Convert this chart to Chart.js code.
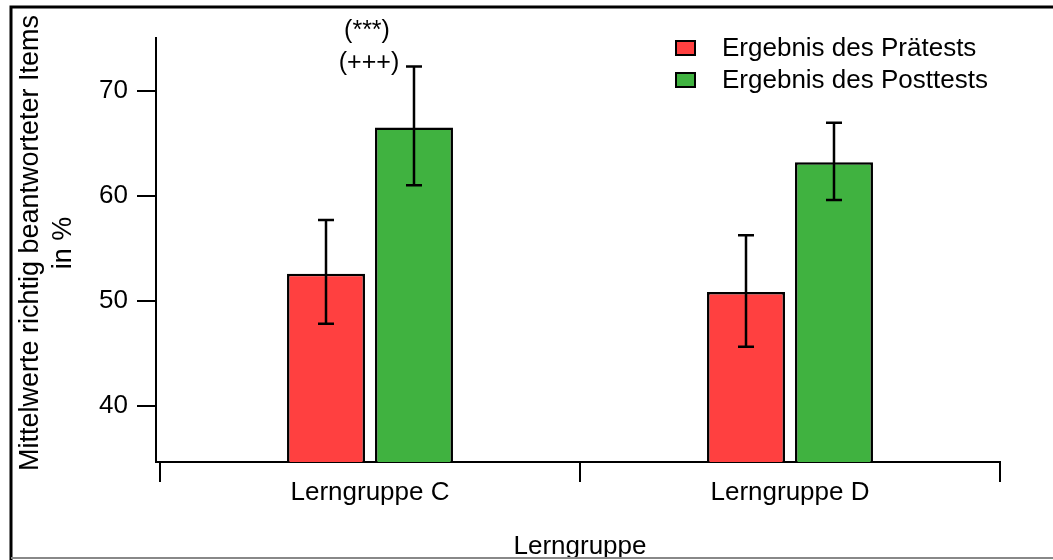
<!DOCTYPE html>
<html>
<head>
<meta charset="utf-8">
<script src="https://cdn.jsdelivr.net/npm/chart.js@4"></script>
<style>
  html, body { margin: 0; padding: 0; background: #fff; }
  #wrap { width: 1053px; height: 560px; position: relative; }
</style>
</head>
<body>
<div id="wrap"><canvas id="c"></canvas></div>
<script>
// ---- data ----
const categories = ['Lerngruppe C', 'Lerngruppe D'];
const seriesLabels = ['Ergebnis des Prätests', 'Ergebnis des Posttests'];
const preValues = [52.6, 50.85];
const preLow = [47.85, 45.65];
const preHigh = [57.7, 56.25];
const postValues = [66.5, 63.2];
const postLow = [61.0, 59.6];
const postHigh = [72.3, 66.95];
const yTicks = [40, 50, 60, 70];
const yMin = 34.7, yMax = 75;
const annotations = ['(***)', '(+++)']; // above Lerngruppe C
const yTitle = ['Mittelwerte richtig beantworteter Items', 'in %'];
const xTitle = 'Lerngruppe';

const FONT = '"Liberation Sans", Arial, sans-serif';
const RED = 'rgb(255,64,64)';
const GREEN = 'rgb(64,178,64)';

const errLow = [preLow, postLow];
const errHigh = [preHigh, postHigh];

const decorPlugin = {
  id: 'decor',
  afterLayout(chart) {
    // category axis starts slightly right of the value axis line
    const xs = chart.scales.x;
    xs.left = chart.chartArea.left + 4;
    xs.configure();
  },
  afterDatasetsDraw(chart) {
    const ctx = chart.ctx;
    const ys = chart.scales.y;
    const xs = chart.scales.x;
    // error bars
    ctx.save();
    ctx.strokeStyle = '#000';
    ctx.lineWidth = 2.5;
    chart.data.datasets.forEach((ds, i) => {
      const meta = chart.getDatasetMeta(i);
      meta.data.forEach((el, j) => {
        const x = el.x;
        const yh = ys.getPixelForValue(errHigh[i][j]);
        const yl = ys.getPixelForValue(errLow[i][j]);
        ctx.beginPath();
        ctx.moveTo(x, yh); ctx.lineTo(x, yl);
        ctx.moveTo(x - 8, yh); ctx.lineTo(x + 8, yh);
        ctx.moveTo(x - 8, yl); ctx.lineTo(x + 8, yl);
        ctx.stroke();
      });
    });
    // annotations above Lerngruppe C
    const cx = xs.getPixelForValue(0);
    const top = ys.getPixelForValue(postHigh[0]);
    ctx.fillStyle = '#000';
    ctx.font = '25px ' + FONT;
    ctx.textAlign = 'center';
    ctx.textBaseline = 'middle';
    ctx.fillText(annotations[1], cx - 1, top - 3);
    ctx.fillText(annotations[0], cx - 3, top - 35);
    ctx.restore();
  },
  afterDraw(chart) {
    const ctx = chart.ctx;
    const area = chart.chartArea;
    const xs = chart.scales.x;
    ctx.save();
    // connect x axis line to y axis line
    ctx.fillStyle = '#000';
    ctx.fillRect(area.left - 1, xs.top - 1, xs.left - area.left + 3, 2);
    // legend
    ctx.font = '26px ' + FONT;
    ctx.textAlign = 'left';
    ctx.textBaseline = 'middle';
    chart.data.datasets.forEach((ds, i) => {
      const cy = 48 + i * 32;
      ctx.fillStyle = ds.backgroundColor;
      ctx.fillRect(676, cy - 7, 19, 14);
      ctx.strokeStyle = '#000';
      ctx.lineWidth = 2;
      ctx.strokeRect(676, cy - 7, 19, 14);
      ctx.fillStyle = '#000';
      ctx.fillText(ds.label, 722, cy + 1);
    });
    // y title
    ctx.save();
    ctx.translate(31, 243);
    ctx.rotate(-Math.PI / 2);
    ctx.textAlign = 'center';
    ctx.textBaseline = 'middle';
    ctx.font = '27px ' + FONT;
    ctx.fillText(yTitle[0], 0, 0);
    ctx.fillText(yTitle[1], 0, 33);
    ctx.restore();
    // x title
    ctx.textAlign = 'center';
    ctx.textBaseline = 'alphabetic';
    ctx.font = '26px ' + FONT;
    ctx.fillText(xTitle, 580, 554);
    // frame
    ctx.strokeStyle = '#000';
    ctx.lineWidth = 3;
    ctx.beginPath();
    ctx.moveTo(11, 560); ctx.lineTo(11, 7); ctx.lineTo(1053, 7);
    ctx.stroke();
    ctx.strokeStyle = '#888';
    ctx.lineWidth = 2;
    ctx.beginPath();
    ctx.moveTo(11, 558); ctx.lineTo(1053, 558);
    ctx.stroke();
    ctx.restore();
  }
};

new Chart(document.getElementById('c'), {
  type: 'bar',
  data: {
    labels: categories,
    datasets: [
      { label: seriesLabels[0], data: preValues, backgroundColor: RED, borderColor: '#000', borderWidth: 2.5, borderSkipped: false },
      { label: seriesLabels[1], data: postValues, backgroundColor: GREEN, borderColor: '#000', borderWidth: 2.5, borderSkipped: false }
    ]
  },
  options: {
    responsive: true,
    maintainAspectRatio: false,
    animation: false,
    datasets: { bar: { categoryPercentage: 0.419, barPercentage: 0.886 } },
    layout: { padding: { left: 0, right: 53, top: 38, bottom: 0 } },
    plugins: { legend: { display: false }, tooltip: { enabled: false } },
    scales: {
      x: {
        offset: true,
        afterFit: (s) => { s.height = 98; },
        grid: { offset: true, drawOnChartArea: false, drawTicks: true, tickLength: 20, color: '#000', lineWidth: 2 },
        border: { display: true, color: '#000', width: 2 },
        ticks: { color: '#000', font: { size: 26, family: FONT }, padding: -5 }
      },
      y: {
        min: yMin, max: yMax,
        afterFit: (s) => { s.width = 156; },
        afterBuildTicks: (s) => { s.ticks = yTicks.map(v => ({ value: v })); },
        grid: { drawOnChartArea: false, drawTicks: true, tickLength: 19, color: '#000', lineWidth: 2 },
        border: { display: true, color: '#000', width: 2 },
        ticks: { color: '#000', font: { size: 26, family: FONT }, padding: 9 }
      }
    }
  },
  plugins: [decorPlugin]
});
</script>
</body>
</html>
